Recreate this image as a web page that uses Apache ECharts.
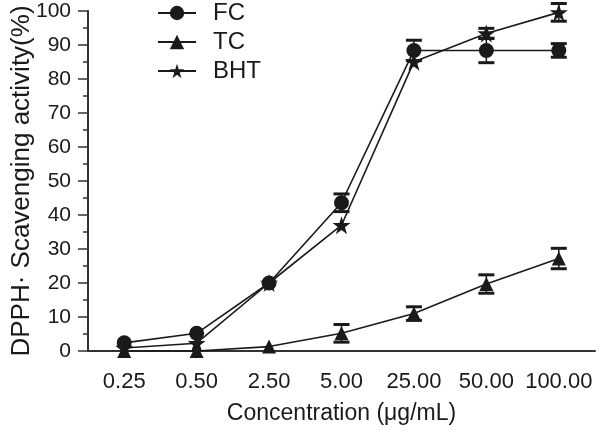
<!DOCTYPE html>
<html>
<head>
<meta charset="utf-8">
<script src="https://cdn.jsdelivr.net/npm/echarts@6/dist/echarts.min.js"></script>
<style>html,body{margin:0;padding:0;background:#fff}#c{width:600px;height:434px}</style>
</head>
<body>
<div id="c"></div>
<script>
const categories = ['0.25', '0.50', '2.50', '5.00', '25.00', '50.00', '100.00'];
const fcValues = [2.4, 5.2, 20.0, 43.6, 88.4, 88.4, 88.4];
const fcErrors = [0, 0, 0, 2.6, 3.0, 3.6, 2.0];
const tcValues = [0.0, 0.0, 1.3, 5.2, 11.0, 19.7, 27.2];
const tcErrors = [0, 0, 0, 2.6, 2.0, 2.7, 3.0];
const bhtValues = [0.9, 2.3, 20.0, 37.0, 85.1, 93.4, 99.6];
const bhtErrors = [0, 0, 0, 0, 0, 1.5, 2.6];
const yTicks = { min: 0, max: 100, interval: 10 };

const FONT = 'Liberation Sans, Arial, sans-serif';
const INK = '#1a1a1a';
const STAR = 'path://M50,0 L61.2,34.5 L97.6,34.5 L68.2,55.9 L79.4,90.5 L50,69.1 L20.6,90.5 L31.8,55.9 L2.4,34.5 L38.8,34.5 Z';

function errData(vals, errs) {
  return vals.map((v, i) => [i, v - errs[i], v + errs[i]]).filter((d, i) => errs[i] > 0);
}
function errSeries(vals, errs) {
  return {
    type: 'custom',
    silent: true,
    z: 1,
    clip: false,
    data: errData(vals, errs),
    encode: { x: 0, y: [1, 2] },
    renderItem: function (params, api) {
      const x = api.value(0);
      const lo = api.coord([x, api.value(1)]);
      const hi = api.coord([x, api.value(2)]);
      const w = 8;
      const st = { stroke: INK, lineWidth: 3 };
      return {
        type: 'group',
        children: [
          { type: 'line', shape: { x1: lo[0], y1: lo[1], x2: hi[0], y2: hi[1] }, style: { stroke: INK, lineWidth: 1.5 } },
          { type: 'line', shape: { x1: lo[0] - w, y1: lo[1], x2: lo[0] + w, y2: lo[1] }, style: st },
          { type: 'line', shape: { x1: hi[0] - w, y1: hi[1], x2: hi[0] + w, y2: hi[1] }, style: st }
        ]
      };
    }
  };
}
function lineSeries(name, vals, symbol, size) {
  return {
    name: name,
    type: 'line',
    data: vals,
    symbol: symbol,
    symbolSize: size,
    clip: false,
    z: 3,
    lineStyle: { color: INK, width: 1.6 },
    itemStyle: { color: INK, borderWidth: 0 },
    emphasis: { disabled: true }
  };
}

const chart = echarts.init(document.getElementById('c'), null, { renderer: 'canvas' });
chart.setOption({
  animation: false,
  backgroundColor: '#fff',
  grid: { left: 88, right: 5, top: 11, bottom: 83, containLabel: false, outerBoundsMode: 'none' },
  legend: {
    orient: 'vertical',
    left: 157,
    top: 1,
    padding: 0,
    itemGap: 5,
    itemWidth: 38,
    itemHeight: 18,
    formatter: function (n) { return '\u2002' + n; },
    textStyle: { fontFamily: FONT, fontSize: 24, lineHeight: 24, color: INK },
    data: ['FC', 'TC', 'BHT']
  },
  xAxis: {
    type: 'category',
    data: categories,
    boundaryGap: true,
    name: 'Concentration (μg/mL)',
    nameLocation: 'middle',
    nameGap: 51,
    nameMoveOverlap: false,
    nameTextStyle: { fontFamily: FONT, fontSize: 23, color: INK },
    axisLine: { lineStyle: { color: '#333', width: 2 } },
    axisTick: { alignWithLabel: true, interval: 0, length: 10, lineStyle: { color: '#333', width: 1.5 } },
    axisLabel: { interval: 0, fontFamily: FONT, fontSize: 22, color: INK, margin: 20 },
    splitLine: { show: false }
  },
  yAxis: {
    type: 'value',
    min: yTicks.min,
    max: yTicks.max,
    interval: yTicks.interval,
    name: 'DPPH· Scavenging activity(%)',
    nameLocation: 'middle',
    nameGap: 53,
    nameMoveOverlap: false,
    nameTextStyle: { fontFamily: FONT, fontSize: 26, color: INK },
    axisLine: { show: true, lineStyle: { color: '#333', width: 2 } },
    axisTick: { show: true, length: 10, lineStyle: { color: '#333', width: 1.5 } },
    minorTick: { show: true, splitNumber: 2, length: 5, lineStyle: { color: '#333', width: 1.5 } },
    axisLabel: { fontFamily: FONT, fontSize: 21, color: INK, margin: 17 },
    splitLine: { show: false }
  },
  series: [
    errSeries(fcValues, fcErrors),
    errSeries(tcValues, tcErrors),
    errSeries(bhtValues, bhtErrors),
    lineSeries('FC', fcValues, 'circle', 15),
    lineSeries('TC', tcValues, 'triangle', 14),
    lineSeries('BHT', bhtValues, STAR, 18)
  ]
});
</script>
</body>
</html>
